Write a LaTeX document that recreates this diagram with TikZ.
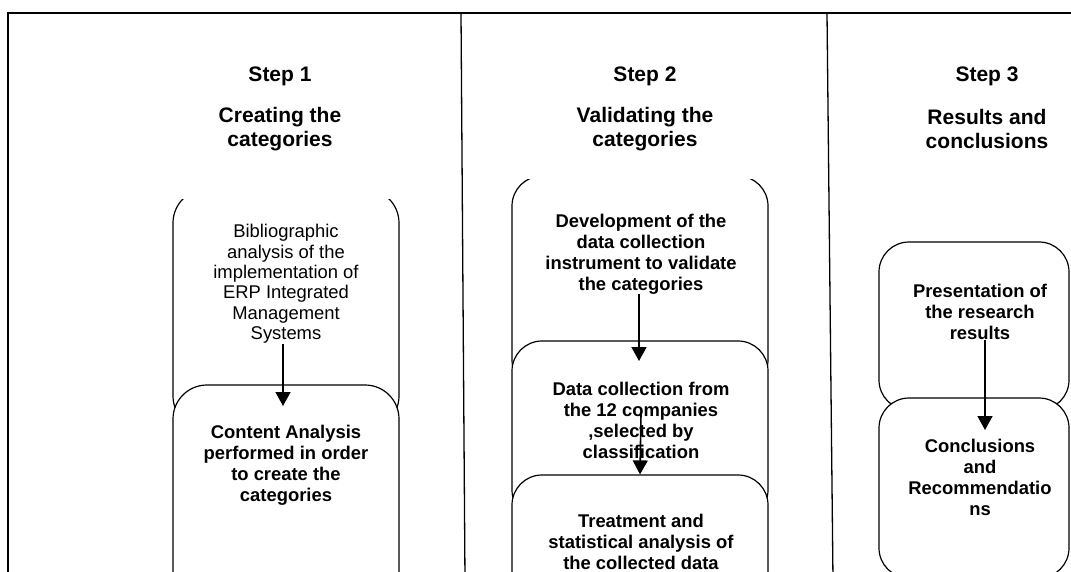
\documentclass[tikz,border=0pt]{standalone}
\usepackage{fontspec}
\setmainfont{Liberation Sans}
\usetikzlibrary{arrows.meta}
\tikzstyle{box}=[draw,fill=white,line width=1.2pt,inner sep=0pt,rounded corners=30pt]
\tikzstyle{head}=[font=\bfseries\fontsize{21}{23.5}\selectfont,align=center,inner sep=0pt]
\tikzstyle{txt}=[font=\fontsize{18.4}{20.4}\selectfont,align=center,inner sep=0pt]
\tikzstyle{btxt}=[align=center,inner sep=0pt,font=\bfseries\fontsize{18.4}{21}\selectfont]
\tikzstyle{flow}=[line width=1.6pt,-{Triangle[width=15pt,length=14pt]}]
\begin{document}
\begin{tikzpicture}[x=1pt,y=-1pt]
		\clip (0,0) rectangle (1071,572);

		\begin{scope}
			\clip (0,200) rectangle (1071,572);
			\node[box,rounded corners=34pt,minimum width=226pt,minimum height=241pt] (bA) at (286,309.5) {};
		\end{scope}
		\node[box,rounded corners=34pt,minimum width=226pt,minimum height=235pt] (bB) at (286,502.5) {};

		\begin{scope}
			\clip (0,180) rectangle (1071,572);
			\node[box,minimum width=256pt,minimum height=214pt] (bC) at (640,283) {};
		\end{scope}
		\node[box,minimum width=256pt,minimum height=179pt] (bD) at (640,430.5) {};
		\node[box,minimum width=256pt,minimum height=145pt] (bE) at (640,547.5) {};

		\node[box,minimum width=190pt,minimum height=168pt] (bF) at (974,326) {};
		\node[box,minimum width=190pt,minimum height=180pt] (bG) at (974,488) {};

		\node[head] (s1) at (280,76) {Step 1};
		\node[head] (h1) at (280,129) {Creating the\\categories};
		\node[head] (s2) at (645,76) {Step 2};
		\node[head] (h2) at (645,129) {Validating the\\categories};
		\node[head] (s3) at (987,76) {Step 3};
		\node[head] (h3) at (987,129) {Results and\\conclusions};

		\node[txt] (tA) at (286,284) {Bibliographic\\analysis of the\\implementation of\\ERP Integrated\\Management\\Systems};
		\node[btxt] (tB) at (286,465) {Content Analysis\\performed in order\\to create the\\categories};
		\node[btxt] (tC) at (641,254) {Development of the\\data collection\\instrument to validate\\the categories};
		\node[btxt] (tD) at (641,420) {Data collection from\\the 12 companies\\,selected by\\classification};
		\node[btxt] (tE) at (641,542) {Treatment and\\statistical analysis of\\the collected data};
		\node[btxt] (tF) at (980,312) {Presentation of\\the research\\results};
		\node[btxt] (tG) at (980,477) {Conclusions\\and\\Recommendatio\\ns};

		\coordinate (pB) at (283,406);
		\coordinate (pD) at (639,361);
		\coordinate (sE) at ([yshift=-32pt]tD.north);
		\coordinate (pG) at (985,430);
		\draw[flow] (tA.south -| pB) -- (pB);
		\draw[flow] (tC.south -| pD) -- (pD);
		\draw[flow] (sE) -- (bE.north);
		\draw[flow] (tF.south -| pG) -- (pG);

		\draw[line width=1.6pt] (8,580) -- (8,13) -- (1080,13);
		\draw[line width=1.3pt]
			(461,13) -- (465,580)
			(827,13) -- (833,580);
\end{tikzpicture}
\end{document}
